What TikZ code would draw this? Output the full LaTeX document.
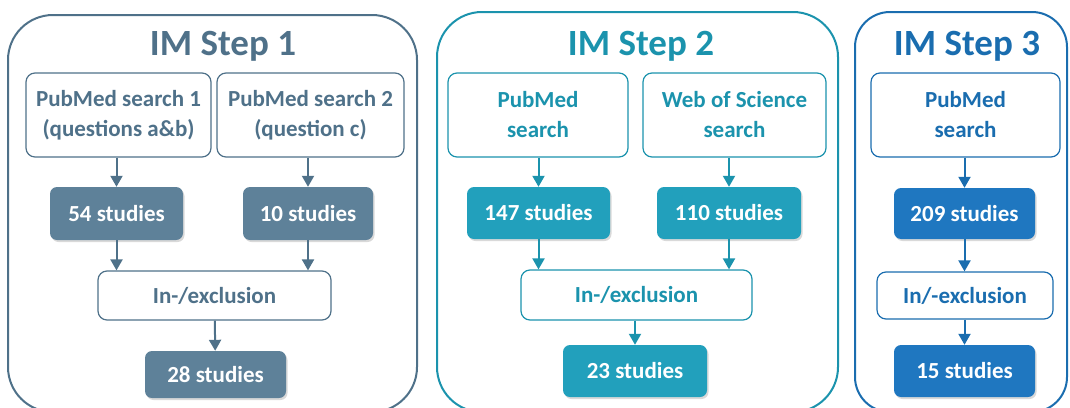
\documentclass[tikz,border=0pt]{standalone}
\usepackage{fontspec}
\setmainfont{Carlito}
\usetikzlibrary{arrows.meta,shadows}
\definecolor{slatefill}{HTML}{5E8199}
\definecolor{slateline}{HTML}{4F7189}
\definecolor{tealfill}{HTML}{22A0BC}
\definecolor{tealline}{HTML}{1B93AD}
\definecolor{bluefill}{HTML}{1F77C0}
\definecolor{blueline}{HTML}{1A6DAF}

\begin{document}
\begin{tikzpicture}[x=1pt,y=-1pt,
    panel/.style={line width=2pt,rounded corners=45pt},
    title/.style={anchor=base,font=\fontsize{37}{40}\selectfont\bfseries},
    search/.style={draw,fill=white,line width=1.2pt,rounded corners=9pt,align=center,inner sep=0pt,
                   font=\fontsize{23}{30}\selectfont\bfseries},
    count/.style={fill,rounded corners=7pt,text=white,inner sep=0pt,
                  font=\fontsize{23}{30}\selectfont\bfseries,
                  drop shadow={shadow xshift=1.5pt,shadow yshift=-2pt,opacity=0.3}},
    flow/.style={-{Triangle[width=12pt,length=11pt]},line width=2pt}]
\useasboundingbox (0,0) rectangle (1070,407);

% IM Step 1
\begin{scope}[color=slateline,every node/.append style={fill=slatefill}]
    \draw[panel] (8,15) rectangle (417,412);
    \node (t1)[title,fill=none] at (223,55) {IM Step 1};
    \node (pm1)[search,minimum width=185pt,minimum height=84pt] at (118.5,115) {PubMed search 1\\(questions a\&b)};
    \node (pm2)[search,minimum width=187pt,minimum height=84pt] at (310.5,115) {PubMed search 2\\(question c)};
    \node (n54)[count,minimum width=133pt,minimum height=53pt] at (116.5,213.5) {54 studies};
    \node (n10)[count,minimum width=130pt,minimum height=53pt] at (308,213.5) {10 studies};
    \node (ex1)[search,minimum width=233pt,minimum height=49pt] at (214.5,295.5) {In-/exclusion};
    \node (n28)[count,minimum width=141pt,minimum height=47pt] at (215.5,374.5) {28 studies};
    \draw[flow] (n54 |- pm1.south) -- (n54);
    \draw[flow] (n10 |- pm2.south) -- (n10);
    \draw[flow] (n54) -- (n54 |- ex1.north);
    \draw[flow] (n10) -- (n10 |- ex1.north);
    \draw[flow] (ex1) -- (n28);
\end{scope}

% IM Step 2
\begin{scope}[color=tealline,every node/.append style={fill=tealfill}]
    \draw[panel] (437,12) rectangle (838,412);
    \node (t2)[title,fill=none] at (641,55) {IM Step 2};
    \node (pm3)[search,minimum width=180pt,minimum height=84pt] at (538,115) {PubMed\\search};
    \node (wos)[search,minimum width=183pt,minimum height=84pt] at (734.5,115) {Web of Science\\search};
    \node (n147)[count,minimum width=143pt,minimum height=52pt] at (538.5,213) {147 studies};
    \node (n110)[count,minimum width=144pt,minimum height=52pt] at (729,213) {110 studies};
    \node (ex2)[search,minimum width=231pt,minimum height=50pt] at (636.5,295) {In-/exclusion};
    \node (n23)[count,minimum width=144pt,minimum height=52pt] at (635,371) {23 studies};
    \draw[flow] (n147 |- pm3.south) -- (n147);
    \draw[flow] (n110 |- wos.south) -- (n110);
    \draw[flow] (n147) -- (n147 |- ex2.north);
    \draw[flow] (n110) -- (n110 |- ex2.north);
    \draw[flow] (n23 |- ex2.south) -- (n23);
\end{scope}

% IM Step 3
\begin{scope}[color=blueline,every node/.append style={fill=bluefill}]
    \draw[panel,rounded corners=35pt] (855,12) rectangle (1067,412);
    \node (t3)[title,fill=none] at (967,55) {IM Step 3};
    \node (pm4)[search,minimum width=189pt,minimum height=84pt] at (965.5,115) {PubMed\\search};
    \node (n209)[count,minimum width=141pt,minimum height=51pt] at (964.5,213.5) {209 studies};
    \node (ex3)[search,minimum width=176pt,minimum height=47pt] at (965,295.5) {In/-exclusion};
    \node (n15)[count,minimum width=141pt,minimum height=52pt] at (964.5,371) {15 studies};
    \draw[flow] (n209 |- pm4.south) -- (n209);
    \draw[flow] (n209) -- (n209 |- ex3.north);
    \draw[flow] (n15 |- ex3.south) -- (n15);
\end{scope}
\end{tikzpicture}
\end{document}
